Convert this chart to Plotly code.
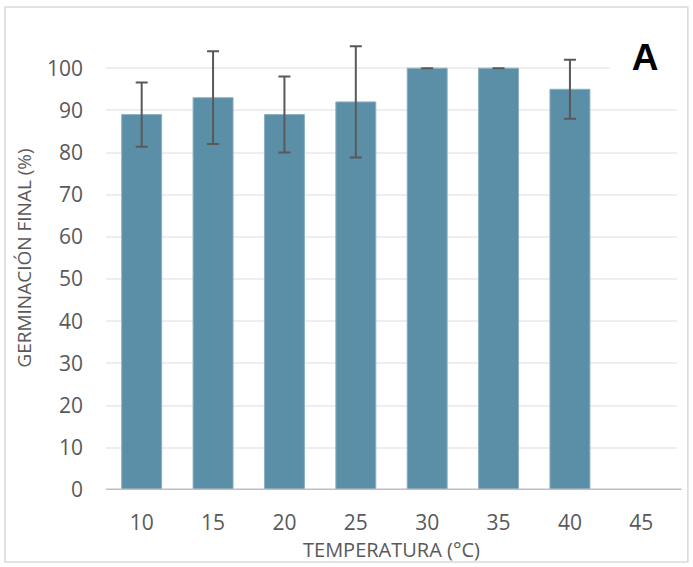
import plotly.graph_objects as go

# Germination data by incubation temperature
temperatures = ["10", "15", "20", "25", "30", "35", "40", "45"]
germination = [89, 93, 89, 92, 100, 100, 95, None]
std_dev = [7.6, 11, 9, 13.2, 0, 0, 7, None]
y_ticks = [0, 10, 20, 30, 40, 50, 60, 70, 80, 90, 100]

text_color = "#595959"
font_family = "Open Sans, Liberation Sans, sans-serif"

fig = go.Figure()
fig.add_trace(go.Bar(
    x=temperatures,
    y=germination,
    marker=dict(color="#5b8fa8", line=dict(color="#8cb0c2", width=1)),
    error_y=dict(type="data", array=std_dev, visible=True,
                 color="#595959", thickness=2, width=6),
    width=0.56,
))

fig.update_layout(
    width=693, height=567,
    margin=dict(l=106, r=16, t=26, b=77),
    paper_bgcolor="white", plot_bgcolor="white",
    showlegend=False,
    font=dict(family=font_family, color=text_color, size=20),
    xaxis=dict(
        type="category",
        showgrid=False, showline=False, zeroline=False,
        ticks="", ticklabelstandoff=18,
        tickfont=dict(size=21, color=text_color),
        title=dict(text="TEMPERATURA (°C)", font=dict(size=20, color=text_color), standoff=2),
    ),
    yaxis=dict(
        range=[0, 110],
        tickvals=y_ticks,
        showgrid=True, gridcolor="#eeeeee", gridwidth=1.5,
        zeroline=False, showline=False, ticks="",
        ticklabelstandoff=22,
        tickfont=dict(size=21, color=text_color),
        title=dict(text="GERMINACIÓN FINAL (%)", font=dict(size=19, color=text_color), standoff=10),
    ),
    shapes=[
        # baseline of the value axis
        dict(type="line", xref="paper", yref="y", x0=0, x1=1.008, y0=0, y1=0,
             line=dict(color="#bfbfbf", width=3), layer="above"),
        # chart frame
        dict(type="rect", xref="paper", yref="paper",
             x0=-0.177, x1=1.019, y0=-0.155, y1=1.041,
             line=dict(color="#d9d9d9", width=1.5)),
    ],
    annotations=[
        dict(text="<b>A</b>", xref="paper", yref="paper", x=0.944, y=0.933,
             xanchor="center", yanchor="middle",
             showarrow=False, bgcolor="white", width=68, height=44,
             font=dict(family="Liberation Sans, Arial, sans-serif", size=37, color="black")),
    ],
)

fig.write_html("out.html")
